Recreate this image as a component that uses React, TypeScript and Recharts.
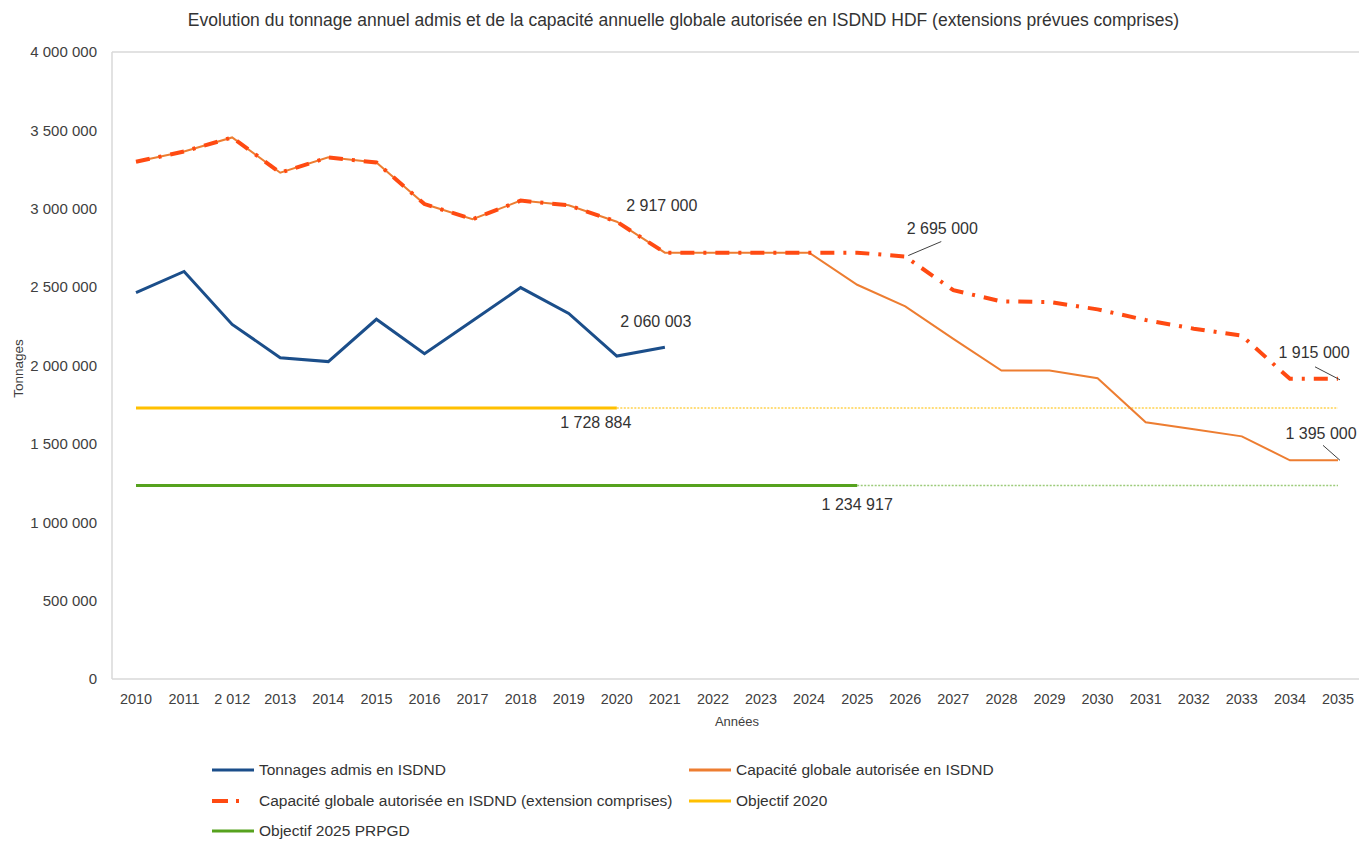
import React from "react";
import { LineChart, Line, XAxis, YAxis, ReferenceLine, LabelList } from "recharts";

const years = [
    "2010", "2011", "2012", "2013", "2014", "2015", "2016", "2017", "2018", "2019", "2020", "2021", "2022",
    "2023", "2024", "2025", "2026", "2027", "2028", "2029", "2030", "2031", "2032", "2033", "2034", "2035",
];
const yearLabels = [
    "2010", "2011", "2 012", "2013", "2014", "2015", "2016", "2017", "2018", "2019", "2020", "2021", "2022",
    "2023", "2024", "2025", "2026", "2027", "2028", "2029", "2030", "2031", "2032", "2033", "2034", "2035",
];
const yTicks = [0, 500000, 1000000, 1500000, 2000000, 2500000, 3000000, 3500000, 4000000];

const tonnagesAdmis = [
    2465000, 2600000, 2262000, 2050000, 2025000, 2295000, 2075000, 2285000, 2497000, 2332000, 2060003, 2116000,
    null, null, null, null, null, null, null, null, null, null, null, null, null, null,
];
const capaciteGlobale = [
    3300000, 3365000, 3455000, 3230000, 3328000, 3295000, 3030000, 2933000, 3052000, 3022000, 2917000, 2720000,
    2720000, 2720000, 2720000, 2515000, 2377000, 2170000, 1968000, 1968000, 1919000, 1638000, 1593000, 1548000,
    1395000, 1395000,
];
const capaciteExtension = [
    3300000, 3365000, 3455000, 3230000, 3328000, 3295000, 3030000, 2933000, 3052000, 3022000, 2917000, 2720000,
    2720000, 2720000, 2720000, 2720000, 2695000, 2480000, 2409000, 2405000, 2358000, 2290000, 2235000, 2190000,
    1915000, 1915000,
];
const objectif2020 = [
    1728884, 1728884, 1728884, 1728884, 1728884, 1728884, 1728884, 1728884, 1728884, 1728884, 1728884,
    null, null, null, null, null, null, null, null, null, null, null, null, null, null, null,
];
const objectif2020Suite = [
    null, null, null, null, null, null, null, null, null, null, 1728884, 1728884, 1728884, 1728884, 1728884,
    1728884, 1728884, 1728884, 1728884, 1728884, 1728884, 1728884, 1728884, 1728884, 1728884, 1728884,
];
const objectif2025 = [
    1234917, 1234917, 1234917, 1234917, 1234917, 1234917, 1234917, 1234917, 1234917, 1234917, 1234917, 1234917,
    1234917, 1234917, 1234917, 1234917, null, null, null, null, null, null, null, null, null, null,
];
const objectif2025Suite = [
    null, null, null, null, null, null, null, null, null, null, null, null, null, null, null, 1234917,
    1234917, 1234917, 1234917, 1234917, 1234917, 1234917, 1234917, 1234917, 1234917, 1234917,
];

const data = years.map((year, i) => ({
    year,
    tonnages: tonnagesAdmis[i],
    capacite: capaciteGlobale[i],
    extension: capaciteExtension[i],
    obj2020: objectif2020[i],
    obj2020Suite: objectif2020Suite[i],
    obj2025: objectif2025[i],
    obj2025Suite: objectif2025Suite[i],
}));

// where the value labels sit, relative to their point
const annotations: Record<string, Record<string, { dx: number; dy: number; leader?: number[] }>> = {
    tonnages: { "2020": { dx: 39, dy: -35 } },
    capacite: { "2035": { dx: -17, dy: -27, leader: [2, 0, -15, -15] } },
    extension: {
        "2020": { dx: 45, dy: -16 },
        "2026": { dx: 37, dy: -28, leader: [3, -1, 36, -15] },
        "2035": { dx: -24, dy: -26, leader: [2, 1, -23, -12] },
    },
    obj2020: { "2020": { dx: -21, dy: 15 } },
    obj2025: { "2025": { dx: 0, dy: 19 } },
};

const FONT = "'Liberation Sans', Arial, sans-serif";
const TEXT = "#404040";

const fmt = (n: number) => String(n).replace(/\B(?=(\d{3})+(?!\d))/g, " ");

const makeLabel = (key: string) => (props: any) => {
    const { x, y, value, index } = props;
    const a = annotations[key]?.[years[index]];
    if (!a || value == null) return null;
    return (
        <g>
            {a.leader && (
                <line
                    x1={x + a.leader[0]}
                    y1={y + a.leader[1]}
                    x2={x + a.leader[2]}
                    y2={y + a.leader[3]}
                    stroke="#404040"
                    strokeWidth={1}
                />
            )}
            <text
                x={x + a.dx}
                y={y + a.dy}
                textAnchor="middle"
                dominantBaseline="central"
                fontSize={16}
                fontFamily={FONT}
                fill="#333"
            >
                {fmt(value)}
            </text>
        </g>
    );
};

const legendItems = [
    { name: "Tonnages admis en ISDND", color: "#1B4E8A", dash: undefined, width: 3, col: 0, row: 0 },
    { name: "Capacité globale autorisée en ISDND", color: "#ED7D31", dash: undefined, width: 3, col: 1, row: 0 },
    { name: "Capacité globale autorisée en ISDND (extension comprises)", color: "#FF4A12", dash: "16 8 3 100", width: 4, col: 0, row: 1 },
    { name: "Objectif 2020", color: "#FFC000", dash: undefined, width: 3, col: 1, row: 1 },
    { name: "Objectif 2025 PRPGD", color: "#56A21E", dash: undefined, width: 3, col: 0, row: 2 },
];

const YTitle = (props: any) => {
    const { viewBox } = props;
    const cx = 18;
    const cy = viewBox.y + viewBox.height / 2 + 3;
    return (
        <text x={cx} y={cy} transform={`rotate(-90 ${cx} ${cy})`} textAnchor="middle" dominantBaseline="central"
            fontSize={13.5} fontFamily={FONT} fill={TEXT}>
            Tonnages
        </text>
    );
};

const XTitle = (props: any) => {
    const { viewBox } = props;
    return (
        <text x={viewBox.x + viewBox.width / 2} y={721} textAnchor="middle" dominantBaseline="central"
            fontSize={13} fontFamily={FONT} fill={TEXT}>
            Années
        </text>
    );
};

export default function App() {
    return (
        <div style={{ position: "absolute", left: 0, top: 0, width: 1359, height: 841, overflow: "hidden", background: "#fff" }}>
            <div style={{ position: "absolute", top: 10, left: 0, width: 1367, textAlign: "center", fontFamily: FONT, fontSize: 17.5, color: "#333" }}>
                Evolution du tonnage annuel admis et de la capacité annuelle globale autorisée en ISDND HDF (extensions prévues comprises)
            </div>
            <LineChart width={1380} height={760} data={data} margin={{ top: 52, right: 18, bottom: 21, left: 0 }}>
                <XAxis
                    dataKey="year"
                    interval={0}
                    padding={{ left: 24, right: 24 }}
                    tickFormatter={(v: string, i: number) => yearLabels[i]}
                    axisLine={{ stroke: "#d9d9d9", strokeWidth: 1.5 }}
                    tickLine={false}
                    tickSize={0}
                    tickMargin={15}
                    height={60}
                    tick={{ fontSize: 14.4, fontFamily: FONT, fill: TEXT }}
                    label={{ content: XTitle }}
                />
                <YAxis
                    domain={[0, 4000000]}
                    ticks={yTicks}
                    width={112}
                    tickFormatter={fmt}
                    axisLine={{ stroke: "#d9d9d9", strokeWidth: 1.5 }}
                    tickLine={false}
                    tickSize={0}
                    tickMargin={15}
                    tick={{ fontSize: 15, fontFamily: FONT, fill: TEXT }}
                    label={{ content: YTitle }}
                />
                <ReferenceLine y={4000000} stroke="#d9d9d9" strokeWidth={1.5} />
                <Line dataKey="obj2020Suite" stroke="#FFD24D" strokeWidth={1.5} strokeDasharray="2 1.5" dot={false} isAnimationActive={false} />
                <Line dataKey="obj2025Suite" stroke="#9CCB7A" strokeWidth={1.5} strokeDasharray="2 1.5" dot={false} isAnimationActive={false} />
                <Line dataKey="obj2020" stroke="#FFC000" strokeWidth={3} dot={false} isAnimationActive={false}>
                    <LabelList content={makeLabel("obj2020")} />
                </Line>
                <Line dataKey="obj2025" stroke="#56A21E" strokeWidth={3} dot={false} isAnimationActive={false}>
                    <LabelList content={makeLabel("obj2025")} />
                </Line>
                <Line dataKey="capacite" stroke="#ED7D31" strokeWidth={2} dot={false} isAnimationActive={false}>
                    <LabelList content={makeLabel("capacite")} />
                </Line>
                <Line dataKey="extension" stroke="#FF4A12" strokeWidth={4} strokeDasharray="14 9 3 9" dot={false} isAnimationActive={false}>
                    <LabelList content={makeLabel("extension")} />
                </Line>
                <Line dataKey="tonnages" stroke="#1B4E8A" strokeWidth={3} dot={false} isAnimationActive={false}>
                    <LabelList content={makeLabel("tonnages")} />
                </Line>
            </LineChart>
            {legendItems.map((it) => (
                <div
                    key={it.name}
                    style={{
                        position: "absolute",
                        left: it.col === 0 ? 212 : 689,
                        top: 760 + it.row * 30.5,
                        display: "flex",
                        alignItems: "center",
                        height: 20,
                        fontFamily: FONT,
                        fontSize: 15.5,
                        color: "#333",
                        whiteSpace: "nowrap",
                    }}
                >
                    <svg width={44} height={10} style={{ marginRight: 3 }}>
                        <line x1={0} y1={5} x2={42} y2={5} stroke={it.color} strokeWidth={it.width} strokeDasharray={it.dash} />
                    </svg>
                    {it.name}
                </div>
            ))}
        </div>
    );
}
